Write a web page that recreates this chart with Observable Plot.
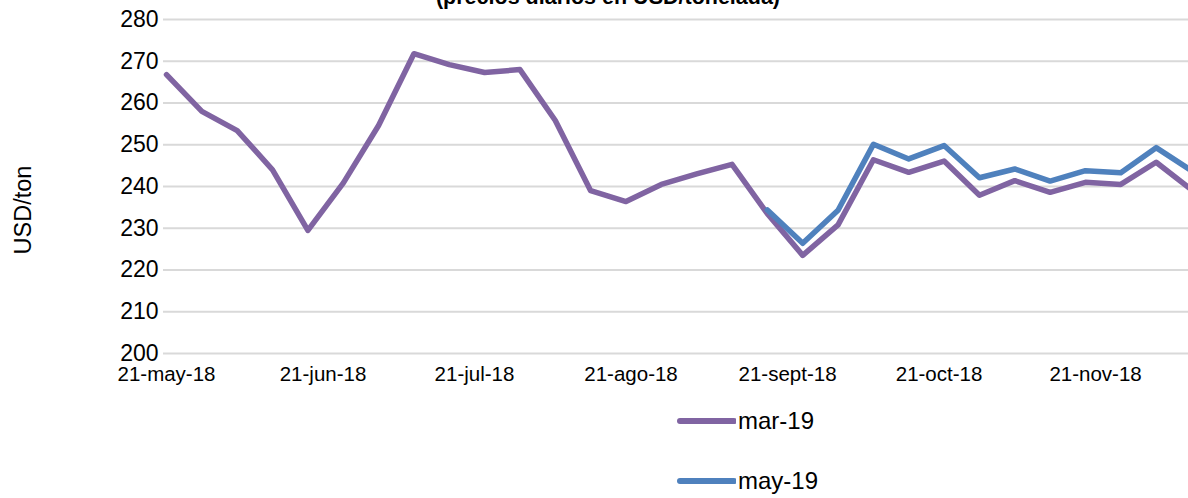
<!DOCTYPE html>
<html><head><meta charset="utf-8">
<script src="https://cdn.jsdelivr.net/npm/d3@7"></script>
<script src="https://cdn.jsdelivr.net/npm/@observablehq/plot@0.6"></script>
<style>
body{margin:0;background:#fff;}
#wrap{position:relative;width:1188px;height:498px;overflow:hidden;font-family:"Liberation Sans",Arial,sans-serif;color:#000;}
#chart{position:absolute;left:0;top:0;}
#title{position:absolute;left:608px;top:-13px;transform:translateX(-50%);white-space:nowrap;font-weight:bold;font-size:21.5px;line-height:21px;}
#ylabel{position:absolute;left:23px;top:210px;transform:translate(-50%,-50%) rotate(-90deg);white-space:nowrap;font-size:23.5px;line-height:23px;}
.leg{position:absolute;left:677px;height:24px;display:flex;align-items:center;font-size:24px;line-height:24px;white-space:nowrap;}
.leg svg{display:block;margin-right:2px;}
</style></head><body>
<div id="wrap">
  <div id="chart"></div>
  <div id="title">(precios diarios en USD/tonelada)</div>
  <div id="ylabel">USD/ton</div>
  <div id="legend"></div>
</div>
<script>
// Weekly dates
const dates = ["2018-05-21","2018-05-28","2018-06-04","2018-06-11","2018-06-18","2018-06-25",
  "2018-07-02","2018-07-09","2018-07-16","2018-07-23","2018-07-30","2018-08-06","2018-08-13",
  "2018-08-20","2018-08-27","2018-09-03","2018-09-10","2018-09-17","2018-09-24","2018-10-01",
  "2018-10-08","2018-10-15","2018-10-22","2018-10-29","2018-11-05","2018-11-12","2018-11-19",
  "2018-11-26","2018-12-03","2018-12-10"];
// Series values (USD/ton)
const mar19 = [266.8,258.0,253.4,244.0,229.5,240.8,254.6,271.8,269.2,267.3,268.0,255.8,239.0,
  236.4,240.5,243.0,245.3,233.5,223.5,230.8,246.4,243.4,246.1,237.9,241.4,238.6,241.0,240.5,245.8,239.2];
const may19 = [null,null,null,null,null,null,null,null,null,null,null,null,null,
  null,null,null,null,234.4,226.4,234.3,250.1,246.6,249.8,242.1,244.2,241.3,243.8,243.3,249.3,243.8];
const seriesNames = ["mar-19","may-19"];
const seriesColors = ["#8064A2","#4F81BD"];
// Axis ticks
const yTicks = [200,210,220,230,240,250,260,270,280];
const xTickDates = ["2018-05-21","2018-06-21","2018-07-21","2018-08-21","2018-09-21","2018-10-21","2018-11-21"];
const xTickLabels = ["21-may-18","21-jun-18","21-jul-18","21-ago-18","21-sept-18","21-oct-18","21-nov-18"];

const parse = d3.utcParse("%Y-%m-%d");
const rows = dates.map((d, i) => ({date: parse(d), mar: mar19[i], may: may19[i]}));
const tickDates = xTickDates.map(parse);
const labelFor = d => xTickLabels[tickDates.findIndex(t => +t === +d)];

const chart = Plot.plot({
  width: 1188,
  height: 400,
  marginTop: 19,
  marginBottom: 47,
  marginLeft: 163,
  marginRight: 0,
  style: {fontFamily: "Liberation Sans, Arial, sans-serif", fontSize: "23px", color: "#000", background: "transparent", overflow: "visible"},
  x: {type: "utc", domain: [parse(dates[0]), parse(dates[dates.length - 1])], range: [166, 1191]},
  y: {domain: [200, 280]},
  marks: [
    Plot.gridY(yTicks, {stroke: "#d9d9d9", strokeOpacity: 1, strokeWidth: 2}),
    Plot.axisY(yTicks, {tickSize: 0, tickPadding: 5, fontSize: 23, label: null}),
    Plot.axisX(tickDates, {tickSize: 0, tickPadding: 13, fontSize: 20.5, tickFormat: labelFor, label: null}),
    Plot.lineY(rows, {x: "date", y: "mar", stroke: seriesColors[0], strokeWidth: 5.5, strokeLinejoin: "round", strokeLinecap: "round"}),
    Plot.lineY(rows, {x: "date", y: "may", stroke: seriesColors[1], strokeWidth: 5.5, strokeLinejoin: "round", strokeLinecap: "round"})
  ]
});
document.getElementById("chart").appendChild(chart);

const legend = document.getElementById("legend");
const legTops = [409, 469];
seriesNames.forEach((name, i) => {
  const item = document.createElement("div");
  item.className = "leg";
  item.style.top = legTops[i] + "px";
  item.innerHTML = `<svg width="59" height="24"><line x1="3" y1="12" x2="57" y2="12" stroke="${seriesColors[i]}" stroke-width="6" stroke-linecap="round"/></svg><span>${name}</span>`;
  legend.appendChild(item);
});
</script>
</body></html>
